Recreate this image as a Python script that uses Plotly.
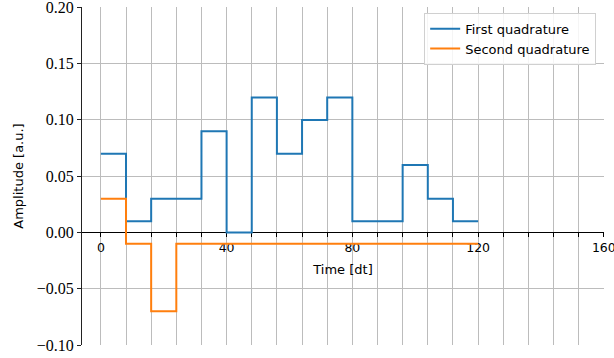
import plotly.graph_objects as go

time = [0, 8, 16, 24, 32, 40, 48, 56, 64, 72, 80, 88, 96, 104, 112, 120]
first_quadrature = [0.07, 0.01, 0.03, 0.03, 0.09, 0.00, 0.12, 0.07, 0.10, 0.12,
                    0.01, 0.01, 0.06, 0.03, 0.01, 0.01]
second_quadrature = [0.03, -0.01, -0.07, -0.01, -0.01, -0.01, -0.01, -0.01, -0.01,
                     -0.01, -0.01, -0.01, -0.01, -0.01, -0.01, -0.01]

x_tick_vals = list(range(0, 161, 8))
x_tick_text = [str(v) if v % 40 == 0 else "" for v in x_tick_vals]
y_tick_vals = [-0.10, -0.05, 0.00, 0.05, 0.10, 0.15, 0.20]
y_tick_text = ["\u22120.10", "\u22120.05", "0.00", "0.05", "0.10", "0.15", "0.20"]

SANS = "DejaVu Sans"
SERIF = "Liberation Serif"
GRID = "#bcbcbc"

fig = go.Figure()
fig.add_trace(go.Scatter(x=time, y=first_quadrature, mode="lines", line_shape="hv",
                         name="First quadrature", line=dict(color="#1f77b4", width=2)))
fig.add_trace(go.Scatter(x=time, y=second_quadrature, mode="lines", line_shape="hv",
                         name="Second quadrature", line=dict(color="#ff7f0e", width=2)))

fig.update_layout(
    width=614, height=358,
    margin=dict(l=82, r=10, t=7, b=13, autoexpand=False),
    plot_bgcolor="white", paper_bgcolor="white",
    font=dict(family=SANS, size=12.5, color="black"),
    showlegend=True,
    legend=dict(x=0.985, y=0.983, xanchor="right", yanchor="top",
                bgcolor="rgba(255,255,255,0.85)", bordercolor="#d0d0d0", borderwidth=1,
                font=dict(family=SANS, size=13), tracegroupgap=4),
    xaxis=dict(range=[-6, 160.05], anchor="free", position=1/3, automargin=False,
               tickmode="array", tickvals=x_tick_vals, ticktext=x_tick_text,
               showgrid=True, gridcolor=GRID, gridwidth=1,
               showline=True, linecolor="black", linewidth=1,
               ticks="outside", ticklen=4, tickcolor="black",
               zeroline=False, layer="below traces", ticklabeloverflow="allow",
               tickfont=dict(family=SANS, size=12.5),
               title=dict(text="Time [dt]", font=dict(family=SANS, size=13), standoff=10)),
    yaxis=dict(range=[-0.1, 0.2003], domain=[0, 1], automargin=False,
               tickmode="array", tickvals=y_tick_vals, ticktext=y_tick_text,
               showgrid=True, gridcolor=GRID, gridwidth=1,
               showline=True, linecolor="#222222", linewidth=1,
               ticks="outside", ticklen=4, tickcolor="#222222",
               zeroline=False, ticklabeloverflow="allow",
               tickfont=dict(family=SERIF, size=16),
               title=dict(text="Amplitude [a.u.]", font=dict(family=SANS, size=13), standoff=10)),
)

fig.write_html("out.html", config={"displayModeBar": False},
               post_script="document.body.style.margin='0';document.body.style.overflow='hidden';")
